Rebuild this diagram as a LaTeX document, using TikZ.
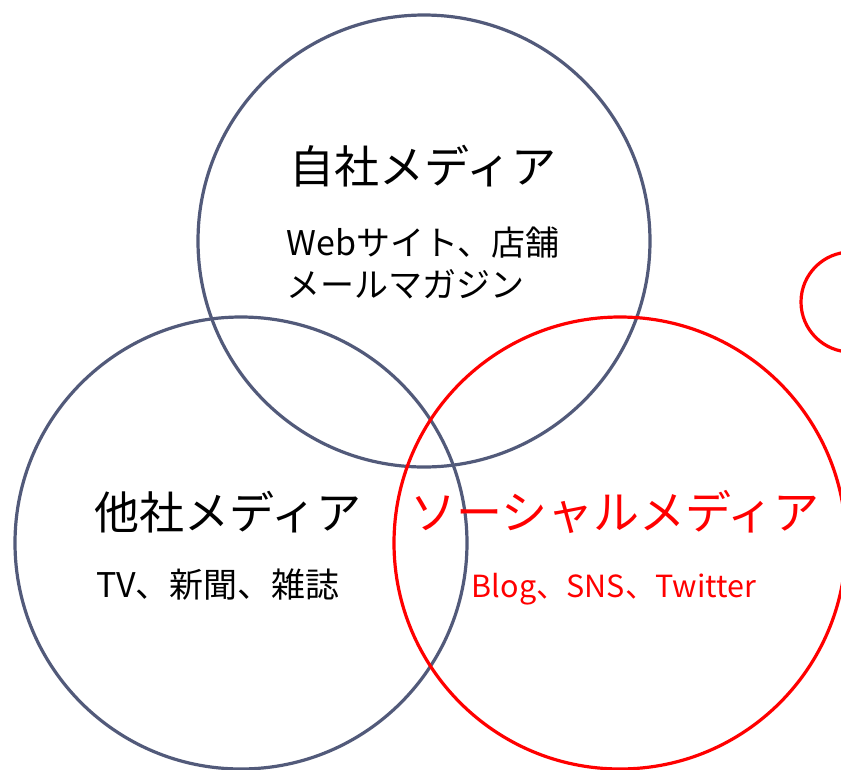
\documentclass[tikz,border=0pt]{standalone}
\usepackage{fontspec}
\setmainfont{Noto Sans CJK JP}
\usetikzlibrary{positioning}
\definecolor{ringgray}{RGB}{82,90,122}
\definecolor{ringred}{RGB}{255,0,0}

\tikzset{
  ring/.style={circle, draw=ringgray, line width=3.2pt, minimum size=452pt, inner sep=0pt},
  redring/.style={ring, draw=ringred},
  title/.style={font=\fontsize{45}{50}\selectfont},
  items/.style={font=\fontsize{34}{42}\selectfont, align=left},
}

\begin{document}
\begin{tikzpicture}[x=1pt, y=-1pt]
    \useasboundingbox (0,0) rectangle (841,769);
    \begin{scope}
        \clip (0,0) rectangle (841,769);
        \node [ring] (own) at (424,241) {};
        \node [ring] (other) at (241,543) {};
        \node [redring] (social) at (620,543) {};
        \node [redring, minimum size=100pt] (extra) at (851,302) {};
    \end{scope}

    \node [title] (ownT) at (423,166) {自社メディア};
    \node [items, below=33pt of ownT] (ownL) {Webサイト、店舗\\メールマガジン};

    \node [title] (otherT) at (228,512) {他社メディア};
    \node [items] (otherL) at (218,585) {TV、新聞、雑誌};

    \node [title, font=\fontsize{46}{50}\selectfont, text=ringred] (socialT) at (615,512) {ソーシャルメディア};
    \node [items, font=\fontsize{30.5}{42}\selectfont, text=ringred] (socialL) at (614,589) {Blog、SNS、Twitter};
\end{tikzpicture}
\end{document}
